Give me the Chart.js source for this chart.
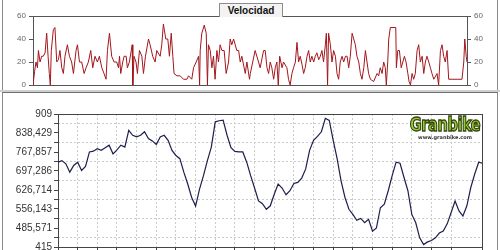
<!DOCTYPE html>
<html>
<head>
<meta charset="utf-8">
<script src="https://cdn.jsdelivr.net/npm/chart.js@4.4.1/dist/chart.umd.min.js"></script>
<style>
  html, body { margin: 0; padding: 0; background: #fff; }
  #page { position: relative; width: 500px; height: 250px; overflow: hidden; background: #fff; }
  .frame { position: absolute; left: 2px; width: 494px; border-left: 1px solid #8a8a8a; border-right: 1px solid #8a8a8a; }
  #topFrame { top: 0; height: 90px; }
  #sep { position: absolute; left: 0; top: 90px; width: 500px; height: 2px; background: #cfcfcf; }
  #botFrame { top: 92px; height: 158px; border-top: 1px solid #6f6f6f; }
  canvas { position: absolute; left: 0; }
  #velChart { top: 0; }
  #altChart { top: 93px; }
  #title { position: absolute; left: 219px; top: 3px; width: 62px; height: 13px; z-index: 3;
           border: 1px solid #8c8c8c; border-bottom: none; background: #f3f3f3; color: #111;
           font: bold 10px "Liberation Sans", Arial, sans-serif; text-align: center; line-height: 13px; }
  #logo { position: absolute; left: 410px; top: 116px; width: 70px; text-align: center; z-index: 3; }
  #logo .g { font-family: "DejaVu Sans Condensed", "DejaVu Sans", sans-serif; font-stretch: condensed;
             font-weight: bold; font-size: 15px; line-height: 16px; letter-spacing: -0.4px;
             color: #9ccc3a; -webkit-text-stroke: 1px #34470f;
             transform: scale(1.08, 1.35); transform-origin: 50% 40%; }
  #logo .w { font: bold 5px "DejaVu Sans", sans-serif; color: #333; line-height: 6px; margin-top: 2px; }
</style>
</head>
<body>
<div id="page">
  <div id="topFrame" class="frame"></div>
  <div id="sep"></div>
  <div id="botFrame" class="frame"></div>
  <canvas id="velChart" width="500" height="90"></canvas>
  <canvas id="altChart" width="500" height="157"></canvas>
  <div id="title">Velocidad</div>
  <div id="logo"><div class="g">Granbike</div><div class="w">www.granbike.com</div></div>
</div>
<script>
// route length (km) shared by both panels
const totalKm = 21.57;

// Velocidad (km/h) against distance (km)
const velKm = [
  0.00, 0.08, 0.15, 0.22, 0.27, 0.35, 0.43, 0.51, 0.60, 0.68,
  0.75, 0.81, 0.86, 0.91, 1.01, 1.09, 1.18, 1.26, 1.34, 1.43,
  1.51, 1.59, 1.71, 1.81, 1.92, 2.01, 2.14, 2.21, 2.31, 2.42,
  2.54, 2.64, 2.75, 2.87, 2.97, 3.08, 3.20, 3.30, 3.42, 3.53,
  3.63, 3.70, 3.80, 3.91, 4.03, 4.16, 4.25, 4.30, 4.36, 4.46,
  4.53, 4.63, 4.69, 4.79, 4.93, 4.96, 5.02, 5.12, 5.19, 5.29,
  5.41, 5.49, 5.59, 5.74, 5.82, 5.95, 6.07, 6.15, 6.32, 6.40,
  6.48, 6.60, 6.70, 6.78, 6.87, 6.95, 7.01, 7.15, 7.31, 7.48,
  7.65, 7.73, 7.89, 7.98, 8.11, 8.23, 8.28, 8.31, 8.39, 8.51,
  8.61, 8.67, 8.72, 8.81, 8.89, 8.97, 9.05, 9.14, 9.22, 9.30,
  9.39, 9.50, 9.60, 9.72, 9.80, 9.88, 9.97, 10.13, 10.22, 10.30,
  10.38, 10.55, 10.63, 10.76, 10.80, 11.04, 11.21, 11.29, 11.46, 11.54,
  11.63, 11.71, 11.79, 11.87, 11.96, 12.04, 12.12, 12.19, 12.26, 12.38,
  12.45, 12.62, 12.70, 12.78, 12.87, 12.95, 13.04, 13.12, 13.20, 13.28,
  13.37, 13.45, 13.53, 13.62, 13.70, 13.78, 13.86, 13.95, 14.03, 14.11,
  14.20, 14.28, 14.36, 14.44, 14.53, 14.58, 14.64, 14.69, 14.78, 14.86,
  14.94, 15.03, 15.11, 15.19, 15.27, 15.36, 15.44, 15.53, 15.61, 15.69,
  15.77, 15.86, 15.94, 16.02, 16.10, 16.19, 16.27, 16.35, 16.44, 16.52,
  16.60, 16.68, 16.77, 16.93, 17.10, 17.18, 17.26, 17.35, 17.43, 17.51,
  17.56, 17.63, 17.68, 17.76, 18.03, 18.06, 18.13, 18.21, 18.30, 18.38,
  18.46, 18.54, 18.63, 18.69, 18.76, 18.84, 18.92, 19.00, 19.09, 19.17,
  19.25, 19.34, 19.42, 19.50, 19.58, 19.67, 19.75, 19.83, 19.92, 20.08,
  20.16, 20.25, 20.33, 20.41, 20.49, 20.58, 20.66, 20.83, 21.08, 21.32,
  21.41, 21.46, 21.53, 21.57
];
const velKmh = [
  0, 12, 20, 15, 30, 20, 25, 25, 28, 45,
  25, 10, 0, 30, 48, 50, 20, 22, 30, 15,
  10, 25, 35, 25, 20, 10, 30, 35, 20, 20,
  10, 15, 20, 30, 15, 25, 20, 25, 15, 10,
  5, 30, 45, 25, 20, 20, 15, 25, 10, 20,
  25, 25, 15, 20, 35, 0, 25, 20, 10, 30,
  25, 10, 25, 40, 35, 25, 20, 30, 25, 35,
  53, 40, 40, 25, 45, 25, 10, 8, 8, 5,
  5, 8, 5, 15, 20, 25, 0, 30, 45, 52,
  45, 0, 35, 30, 15, 25, 5, 30, 20, 35,
  30, 30, 10, 20, 40, 35, 40, 30, 30, 20,
  25, 10, 20, 5, 10, 30, 20, 15, 30, 30,
  15, 10, 20, 15, 5, 15, 20, 0, 25, 15,
  20, 15, 5, 0, 10, 15, 20, 37, 20, 25,
  18, 10, 15, 25, 30, 20, 25, 20, 25, 28,
  22, 25, 30, 20, 35, 45, 0, 45, 35, 20,
  30, 25, 10, 5, 20, 25, 20, 25, 25, 15,
  25, 45, 40, 35, 25, 20, 10, 5, 15, 30,
  20, 10, 5, 3, 10, 8, 15, 10, 20, 15,
  0, 20, 40, 50, 50, 15, 30, 30, 15, 20,
  25, 20, 10, 3, 0, 10, 5, 10, 30, 35,
  20, 25, 10, 20, 25, 20, 15, 10, 5, 10,
  0, 30, 35, 25, 20, 30, 5, 5, 5, 5,
  20, 40, 25, 20
];
const velTicks = [0, 20, 40, 60];

// altitude (m), one reading every 0.2 km
const altStepKm = 0.2;
const altitude = [
  730, 736, 724, 693, 718, 730, 699, 714, 768, 771,
  780, 774, 784, 793, 761, 776, 793, 786, 848, 830,
  824, 830, 843, 818, 809, 796, 824, 830, 811, 774,
  755, 743, 693, 649, 599, 567, 630, 680, 736, 786,
  880, 884, 886, 830, 784, 770, 768, 768, 730, 680,
  634, 586, 576, 555, 568, 611, 649, 634, 609, 624,
  651, 655, 671, 705, 774, 811, 826, 843, 893, 885,
  811, 743, 661, 599, 555, 536, 514, 521, 505, 518,
  474, 486, 561, 574, 624, 680, 730, 726, 674, 624,
  536, 505, 449, 424, 434, 439, 449, 467, 474, 501,
  543, 586, 549, 530, 568, 636, 686, 730, 726
];
const altTickValues = [415, 485.571, 556.143, 626.714, 697.286, 767.857, 838.429, 909];
const altTickLabels = ['415', '485,571', '556,143', '626,714', '697,286', '767,857', '838,429', '909'];

const FONT = '"Liberation Sans", Arial, sans-serif';

// dark box around each plot area
const framePlugin = {
  id: 'frame',
  beforeDatasetsDraw(chart, args, opts) {
    const { ctx, chartArea: a } = chart;
    ctx.save();
    ctx.strokeStyle = opts.color || '#444';
    ctx.lineWidth = 1;
    ctx.strokeRect(Math.round(a.left) + 0.5, Math.round(a.top) + 0.5,
                   Math.round(a.right - a.left), Math.round(a.bottom - a.top));
    ctx.restore();
  }
};

const velAxis = (pos) => ({
  position: pos,
  min: 0, max: 60,
  afterBuildTicks: s => { s.ticks = velTicks.map(v => ({ value: v })); },
  afterFit: s => { s.width = 33; s.paddingTop = 0; s.paddingBottom = 0; },
  ticks: { color: '#666', font: { family: FONT, size: 8 }, padding: 3, autoSkip: false },
  grid: { drawOnChartArea: false, tickLength: 4, tickColor: '#555' },
  border: { display: false }
});

new Chart(document.getElementById('velChart'), {
  type: 'line',
  data: {
    datasets: [{
      data: velKm.map((k, i) => ({ x: k, y: velKmh[i] })),
      borderColor: '#a3161c', borderWidth: 1,
      pointRadius: 0, tension: 0, fill: false
    }]
  },
  options: {
    responsive: false, animation: false, events: [],
    layout: { padding: { top: 16, bottom: 5, left: 0, right: 0 } },
    plugins: { legend: { display: false }, tooltip: { enabled: false }, frame: { color: '#555' } },
    scales: {
      x: { type: 'linear', min: 0, max: totalKm, display: false },
      y: velAxis('left'),
      y2: velAxis('right')
    }
  },
  plugins: [framePlugin]
});

// major ticks carry labels, the mid ticks carry the dashed grid lines
const altTickList = [];
altTickValues.forEach((v, i) => {
  altTickList.push({ value: v, mid: false, idx: i });
  if (i < altTickValues.length - 1) altTickList.push({ value: (v + altTickValues[i + 1]) / 2, mid: true });
});

new Chart(document.getElementById('altChart'), {
  type: 'line',
  data: {
    datasets: [{
      data: altitude.map((v, i) => ({ x: i * altStepKm, y: v })),
      borderColor: '#1e1e4e', borderWidth: 1.2,
      pointRadius: 0, tension: 0, fill: false
    }]
  },
  options: {
    responsive: false, animation: false, events: [],
    layout: { padding: { top: 21, bottom: 0, left: 0, right: 18 } },
    plugins: { legend: { display: false }, tooltip: { enabled: false }, frame: { color: '#444' } },
    scales: {
      x: {
        type: 'linear', min: 0, max: totalKm,
        ticks: { display: false, stepSize: 1 },
        afterFit: s => { s.height = 3; s.paddingLeft = 0; s.paddingRight = 0; },
        grid: { color: '#cbcbcb', tickColor: '#444', tickLength: 3 },
        border: { display: false, dash: [2, 2] }
      },
      y: {
        min: altTickValues[0], max: altTickValues[altTickValues.length - 1],
        afterBuildTicks: s => { s.ticks = altTickList.map(t => ({ ...t })); },
        afterFit: s => { s.width = 58; s.paddingTop = 0; s.paddingBottom = 0; },
        ticks: {
          color: '#333', font: { family: FONT, size: 10 }, padding: 2, autoSkip: false,
          callback: (v, i, ts) => ts[i].mid ? '' : altTickLabels[ts[i].idx]
        },
        grid: {
          color: c => (c.tick && c.tick.mid) ? '#cbcbcb' : 'rgba(0,0,0,0)',
          tickColor: '#444', tickLength: 4
        },
        border: { display: false, dash: [2, 2] }
      }
    }
  },
  plugins: [framePlugin]
});
</script>
</body>
</html>
